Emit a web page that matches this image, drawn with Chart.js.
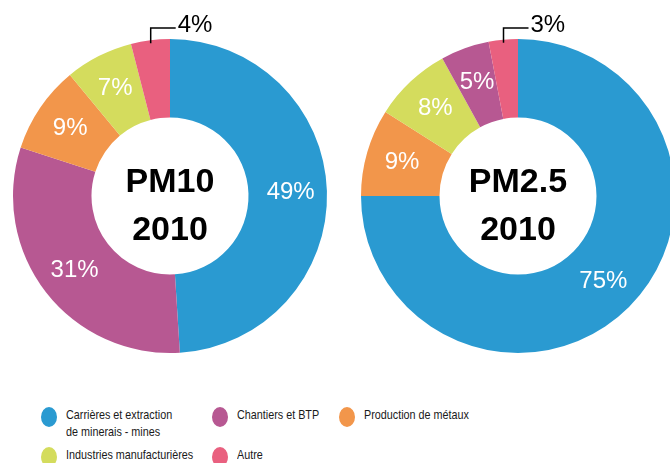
<!DOCTYPE html>
<html>
<head>
<meta charset="utf-8">
<script src="https://cdn.jsdelivr.net/npm/chart.js@4"></script>
<style>
  html, body { margin: 0; padding: 0; background: #fff; overflow: hidden; width: 670px; height: 463px; }
  body { position: relative; font-family: "Liberation Sans", Arial, Helvetica, sans-serif; }
  #pm10 { position: absolute; left: 0; top: 0; }
  #pm25 { position: absolute; left: 335px; top: 0; }
  #legend { position: absolute; left: 41px; top: 406px; display: grid; grid-template-columns: 171px 127px auto; }
  .item { display: flex; align-items: flex-start; height: 40px; }
  .dot { width: 16px; height: 20px; border-radius: 50%; flex: none; margin-top: 1px; }
  .txt { margin-left: 9px; font-size: 13px; line-height: 17px; color: #1a1a1a; white-space: pre; transform: scaleX(0.83); transform-origin: 0 0; }
</style>
</head>
<body>
<canvas id="pm10" width="335" height="370"></canvas>
<canvas id="pm25" width="365" height="370"></canvas>
<div id="legend"></div>
<script>
const categories = [
  "Carrières et extraction\nde minerais - mines",
  "Chantiers et BTP",
  "Production de métaux",
  "Industries manufacturières",
  "Autre",
]
const colors = ["#2A9AD1", "#B75892", "#F2964B", "#D4DC5D", "#E9607F"]
const pm10Values = [49, 31, 9, 7, 4]
const pm25Values = [75, 5, 9, 8, 3]
// clockwise order of the slices, starting at the top
const pm10Order = [0, 1, 2, 3, 4]
const pm25Order = [0, 2, 3, 1, 4]
const pm10Title = ["PM10", "2010"]
const pm25Title = ["PM2.5", "2010"]

const FONT = '"Liberation Sans", Arial, Helvetica, sans-serif'

// percent labels + title in the hole
const donutLabels = {
  id: "donutLabels",
  afterDatasetsDraw(chart, args, opts) {
    const ctx = chart.ctx
    const meta = chart.getDatasetMeta(0)
    const data = chart.data.datasets[0].data
    ctx.save()
    ctx.font = "24px " + FONT
    let cx = 0, cy = 0
    meta.data.forEach((arc, i) => {
      const p = arc.getProps(["x", "y", "startAngle", "endAngle", "innerRadius", "outerRadius"], true)
      cx = p.x; cy = p.y
      const mid = (p.startAngle + p.endAngle) / 2
      const text = data[i] + "%"
      if (data[i] < 5) {
        // small slice: label outside with an elbow line
        const r = p.outerRadius - 3
        const x0 = p.x + Math.cos(mid) * r
        const y0 = p.y + Math.sin(mid) * r
        const yTop = p.y - p.outerRadius - 11
        ctx.strokeStyle = "#000"
        ctx.lineWidth = 1.5
        ctx.beginPath()
        ctx.moveTo(x0, y0)
        ctx.lineTo(x0, yTop)
        ctx.lineTo(x0 + 25, yTop)
        ctx.stroke()
        ctx.fillStyle = "#000"
        ctx.textAlign = "left"
        ctx.textBaseline = "alphabetic"
        ctx.fillText(text, x0 + 27, yTop + 4)
      } else {
        const r = (p.innerRadius + p.outerRadius) / 2 + 3
        ctx.fillStyle = "#fff"
        ctx.textAlign = "center"
        ctx.textBaseline = "middle"
        ctx.fillText(text, p.x + Math.cos(mid) * r, p.y + Math.sin(mid) * r)
      }
    })
    ctx.fillStyle = "#000"
    ctx.font = "bold 34px " + FONT
    ctx.textAlign = "center"
    ctx.textBaseline = "alphabetic"
    ctx.fillText(opts.title[0], cx, cy - 4)
    ctx.fillText(opts.title[1], cx, cy + 44)
    ctx.restore()
  }
}

function makeDonut(id, values, order, title, padding) {
  new Chart(document.getElementById(id), {
    type: "doughnut",
    data: {
      labels: order.map(i => categories[i]),
      datasets: [{
        data: order.map(i => values[i]),
        backgroundColor: order.map(i => colors[i]),
        borderWidth: 0,
      }],
    },
    options: {
      responsive: false,
      animation: false,
      cutout: "50%",
      layout: { padding: padding },
      plugins: {
        legend: { display: false },
        tooltip: { enabled: false },
        donutLabels: { title: title },
      },
    },
    plugins: [donutLabels],
  })
}

makeDonut("pm10", pm10Values, pm10Order, pm10Title, { left: 13, right: 8, top: 39, bottom: 17 })
makeDonut("pm25", pm25Values, pm25Order, pm25Title, { left: 26, right: 25, top: 39, bottom: 17 })

// legend
const legend = document.getElementById("legend")
categories.forEach((name, i) => {
  const item = document.createElement("div")
  item.className = "item"
  const dot = document.createElement("span")
  dot.className = "dot"
  dot.style.background = colors[i]
  const txt = document.createElement("span")
  txt.className = "txt"
  txt.textContent = name
  item.appendChild(dot)
  item.appendChild(txt)
  legend.appendChild(item)
})
</script>
</body>
</html>
